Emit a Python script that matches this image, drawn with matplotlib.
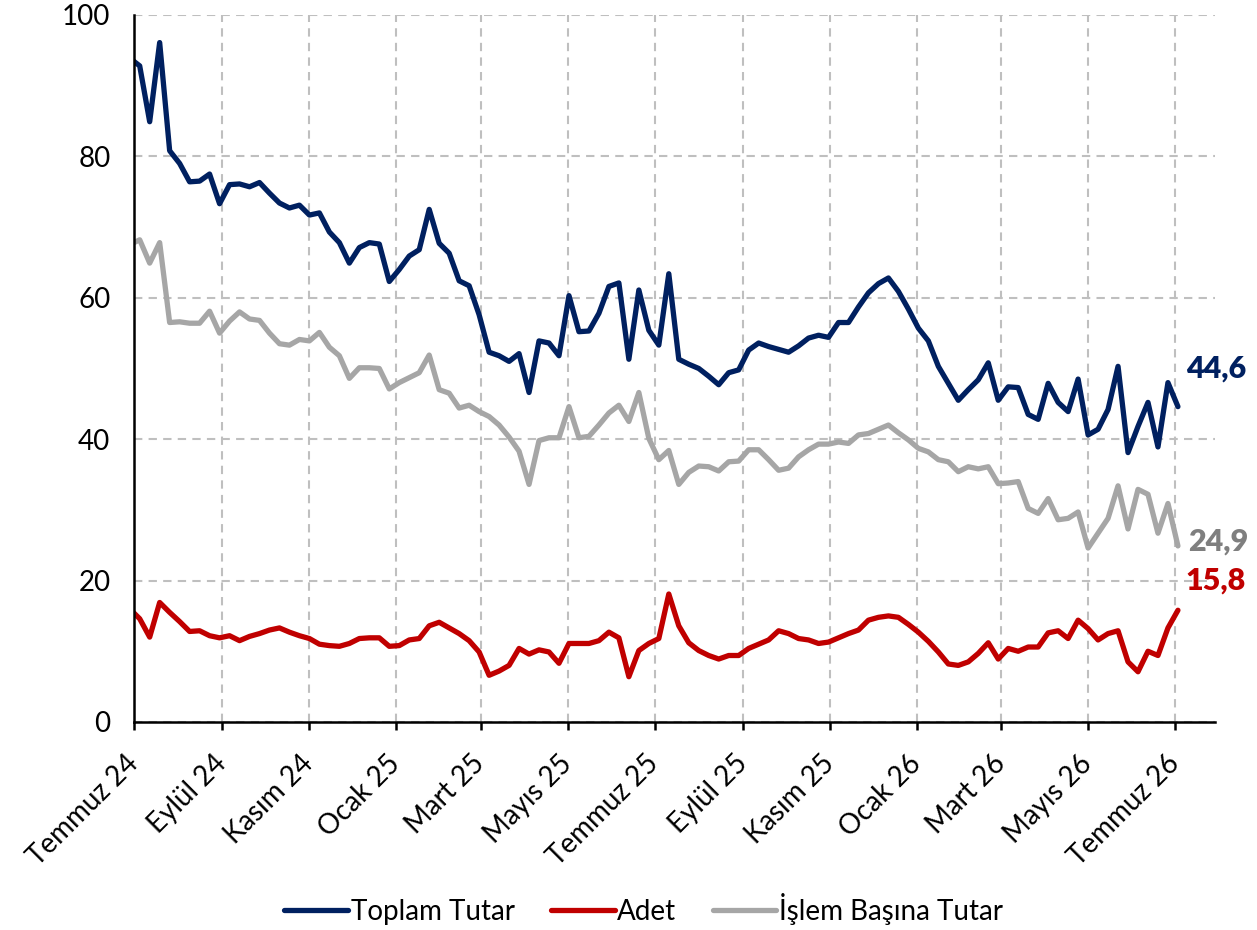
import numpy as np
import pandas as pd
import matplotlib
matplotlib.use("Agg")
import matplotlib.pyplot as plt
import matplotlib.transforms as mtransforms

plt.rcParams['font.family'] = ['Lato', 'DejaVu Sans']

# weekly data (friday), first point falls before the axis start
dates = pd.date_range('2024-06-28', periods=106, freq='7D')

toplam = [93.9,
          92.8, 84.9, 96.1, 80.8, 79.0, 76.4, 76.5, 77.5, 73.3, 76.0,
          76.1, 75.7, 76.3, 74.8, 73.4, 72.7, 73.1, 71.7, 72.0, 69.3,
          67.8, 64.9, 67.1, 67.8, 67.6, 62.3, 64.0, 65.9, 66.8, 72.5,
          67.7, 66.3, 62.4, 61.7, 57.6, 52.3, 51.8, 51.0, 52.1, 46.6,
          53.9, 53.6, 51.8, 60.3, 55.2, 55.3, 57.8, 61.6, 62.1, 51.3,
          61.1, 55.4, 53.3, 63.4, 51.3, 50.6, 50.0, 48.9, 47.7, 49.4,
          49.8, 52.6, 53.6, 53.1, 52.7, 52.3, 53.2, 54.3, 54.7, 54.4,
          56.5, 56.5, 58.7, 60.7, 62.0, 62.8, 60.9, 58.4, 55.7, 53.9,
          50.3, 47.9, 45.5, 47.0, 48.4, 50.8, 45.5, 47.4, 47.3, 43.5,
          42.8, 47.9, 45.2, 43.9, 48.5, 40.6, 41.4, 44.2, 50.3, 38.1,
          41.8, 45.2, 38.9, 48.0, 44.6]

adet = [16.0,
        14.6, 12.0, 16.9, 15.5, 14.2, 12.8, 12.9, 12.2, 11.9, 12.2,
        11.5, 12.1, 12.5, 13.0, 13.3, 12.7, 12.2, 11.8, 11.0, 10.8,
        10.7, 11.1, 11.8, 11.9, 11.9, 10.7, 10.8, 11.6, 11.8, 13.6,
        14.1, 13.3, 12.5, 11.5, 9.9, 6.6, 7.2, 8.0, 10.4, 9.6,
        10.2, 9.9, 8.3, 11.1, 11.1, 11.1, 11.5, 12.7, 11.9, 6.4,
        10.1, 11.1, 11.8, 18.1, 13.6, 11.2, 10.1, 9.4, 8.9, 9.4,
        9.4, 10.4, 11.0, 11.6, 12.9, 12.5, 11.8, 11.6, 11.1, 11.3,
        11.9, 12.5, 13.0, 14.4, 14.8, 15.0, 14.8, 13.8, 12.7, 11.4,
        9.9, 8.2, 8.0, 8.5, 9.7, 11.2, 8.9, 10.4, 10.0, 10.6,
        10.6, 12.6, 12.9, 11.8, 14.4, 13.2, 11.6, 12.5, 12.9, 8.5,
        7.1, 10.0, 9.4, 13.3, 15.8]

islem = [67.5,
         68.2, 64.9, 67.8, 56.5, 56.6, 56.4, 56.4, 58.1, 55.0, 56.7,
         58.0, 57.0, 56.8, 55.0, 53.5, 53.3, 54.1, 53.9, 55.1, 53.0,
         51.8, 48.6, 50.1, 50.1, 50.0, 47.1, 48.0, 48.7, 49.4, 51.9,
         47.0, 46.5, 44.4, 44.8, 43.9, 43.2, 42.0, 40.3, 38.3, 33.6,
         39.8, 40.2, 40.2, 44.6, 40.2, 40.4, 42.0, 43.7, 44.8, 42.5,
         46.6, 40.1, 37.1, 38.4, 33.6, 35.3, 36.2, 36.1, 35.5, 36.8,
         36.9, 38.5, 38.5, 37.1, 35.6, 35.9, 37.5, 38.5, 39.3, 39.3,
         39.6, 39.4, 40.6, 40.8, 41.4, 42.0, 40.9, 39.9, 38.7, 38.2,
         37.1, 36.8, 35.4, 36.1, 35.8, 36.1, 33.7, 33.8, 34.0, 30.2,
         29.5, 31.6, 28.6, 28.8, 29.7, 24.6, 26.7, 28.8, 33.4, 27.3,
         32.9, 32.2, 26.7, 30.9, 24.9]

names = ['Toplam Tutar', 'Adet', 'İşlem Başına Tutar']
colors = ['#002060', '#C00000', '#A6A6A6']
label_colors = ['#002060', '#C00000', '#7F7F7F']
aylar = {1: 'Ocak', 3: 'Mart', 5: 'Mayıs', 7: 'Temmuz', 9: 'Eylül', 11: 'Kasım'}

fig = plt.figure(figsize=(12.57, 9.3), dpi=100)
ax = fig.add_axes([0.1066, 0.2237, 0.86, 0.7602])

for vals, name, c in zip([toplam, adet, islem], names, colors):
    ax.plot(dates, vals, color=c, lw=3.8, label=name,
            solid_joinstyle='round', solid_capstyle='round')

# end labels
offs = [(8, 38), (8, 30), (10, 4)]
for vals, c, o in zip([toplam, adet, islem], label_colors, offs):
    ax.annotate(f'{vals[-1]:.1f}'.replace('.', ','), (dates[-1], vals[-1]),
                xytext=o, textcoords='offset pixels', color=c,
                fontsize=22, fontweight='heavy', va='center', ha='left',
                annotation_clip=False)

ax.set_xlim(pd.Timestamp('2024-07-01'), pd.Timestamp('2026-07-29'))
ax.set_ylim(0, 100)
ax.set_yticks([0, 20, 40, 60, 80, 100])

ticks = pd.date_range('2024-07-01', '2026-07-01', freq='2MS')
ax.set_xticks(ticks)
ax.set_xticklabels([f'{aylar[t.month]} {t.year % 100}' for t in ticks],
                   rotation=45, ha='right', va='center', rotation_mode='anchor')
shift = mtransforms.ScaledTranslation(5 / 100, 0, fig.dpi_scale_trans)
for lab in ax.get_xticklabels():
    lab.set_transform(lab.get_transform() + shift)

ax.grid(True, color='#BFBFBF', ls=(0, (4, 3)), lw=1.5)
ax.set_axisbelow(True)
for s in ['top', 'right']:
    ax.spines[s].set_visible(False)
ax.spines['left'].set_linewidth(1.8)
ax.spines['bottom'].set_linewidth(1.8)
ax.tick_params(axis='y', length=0, pad=17, labelsize=20)
ax.tick_params(axis='x', length=6, width=1.8, pad=21, labelsize=20)

fig.legend(loc='center', bbox_to_anchor=(0.512, 21 / 930), ncol=3, frameon=False,
           fontsize=20, handlelength=2.3, handletextpad=0.1, columnspacing=1.3)

fig.savefig('out.png', dpi=100)
